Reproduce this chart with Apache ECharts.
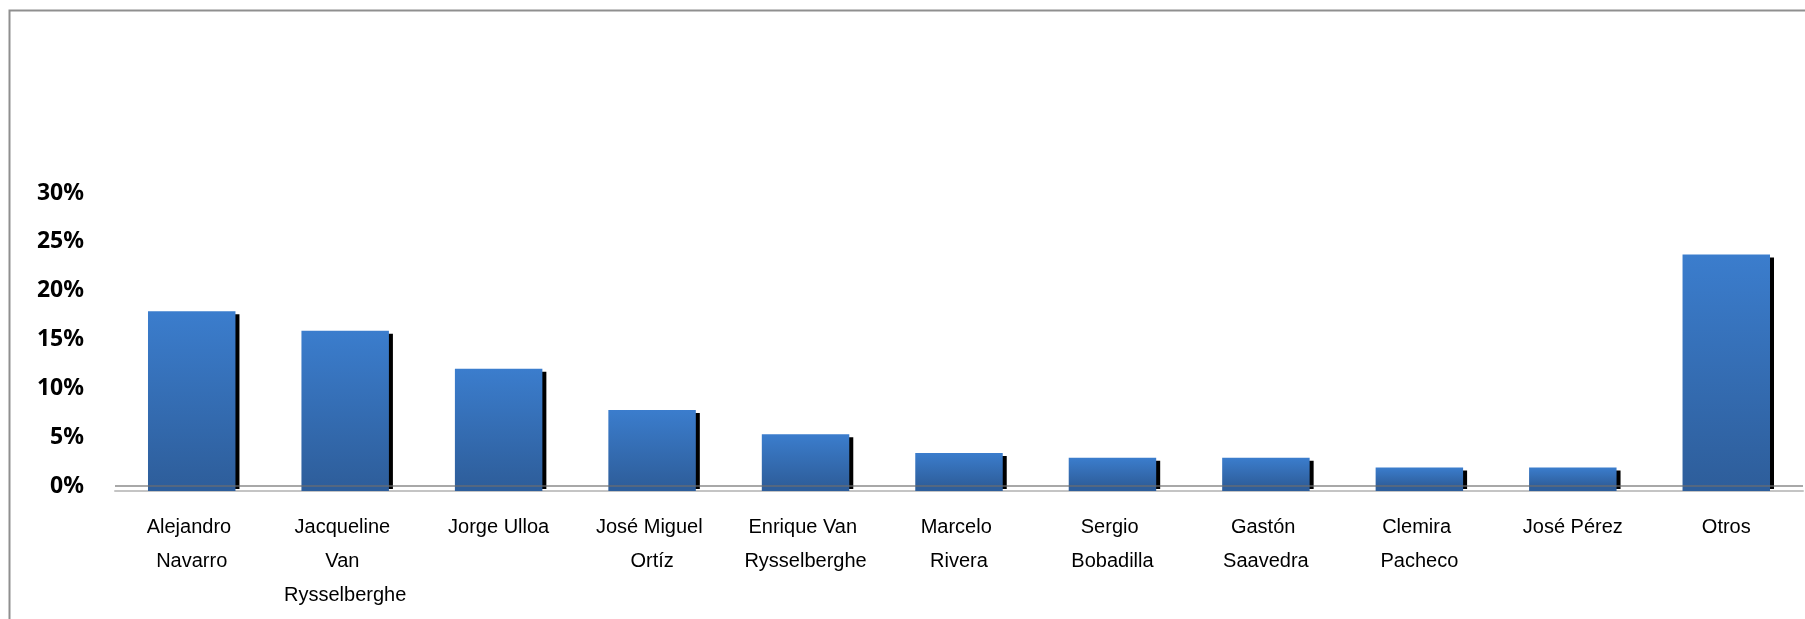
<!DOCTYPE html>
<html>
<head>
<meta charset="utf-8">
<title>Votación</title>
<script src="https://cdn.jsdelivr.net/npm/echarts@6/dist/echarts.min.js"></script>
<style>
	html, body { margin: 0; padding: 0; background: #fff; }
	#chart { width: 1805px; height: 619px; }
</style>
</head>
<body>
<div id="chart"></div>
<script>
	// datos
	const categorias = ['Alejandro Navarro', 'Jacqueline Van Rysselberghe', 'Jorge Ulloa', 'José Miguel Ortíz',
		'Enrique Van Rysselberghe', 'Marcelo Rivera', 'Sergio Bobadilla', 'Gastón Saavedra',
		'Clemira Pacheco', 'José Pérez', 'Otros'];
	const porcentajes = [17.9, 15.9, 12.0, 7.8, 5.3, 3.4, 2.9, 2.9, 1.9, 1.9, 23.7];
	const ticksY = [0, 5, 10, 15, 20, 25, 30];

	// la base de las barras baja un poco bajo el eje (efecto 3d)
	const PROF = 0.5;

	const chart = echarts.init(document.getElementById('chart'));
	chart.setOption({
		animation: false,
		graphic: [{
			type: 'rect',
			shape: { x: 9.5, y: 10.5, width: 1820, height: 700 },
			style: { fill: 'none', stroke: '#8f8f8f', lineWidth: 2 },
			silent: true
		}],
		grid: {
			left: 115,
			right: 2,
			top: 193,
			bottom: 128
		},
		xAxis: {
			type: 'category',
			data: categorias,
			axisTick: { show: false },
			axisLine: {
				show: true,
				onZero: false,
				lineStyle: { color: '#c4c4c4', width: 2 }
			},
			axisLabel: {
				interval: 0,
				margin: 19,
				width: 128,
				overflow: 'break',
				lineHeight: 34,
				color: '#000',
				fontFamily: 'Liberation Sans',
				fontSize: 20
			}
		},
		yAxis: {
			type: 'value',
			min: -PROF,
			max: 30,
			interval: 0.5,
			splitLine: { show: false },
			axisLine: { show: false },
			axisTick: { show: false },
			axisLabel: {
				margin: 31,
				color: '#000',
				fontFamily: 'Noto Sans',
				fontWeight: 'bold',
				fontSize: 23,
				formatter: function (v) {
					return ticksY.some(t => Math.abs(t - v) < 1e-6) ? Math.round(v) + '%' : '';
				}
			}
		},
		series: [
			{
				// parte de la barra bajo el eje, encima de la sombra
				type: 'bar',
				stack: 'votos',
				barCategoryGap: '43%',
				z: 3,
				data: categorias.map(() => -PROF),
				itemStyle: { color: '#2e5e9b' },
				silent: true
			},
			{
				type: 'bar',
				stack: 'votos',
				barCategoryGap: '43%',
				z: 2,
				data: porcentajes,
				itemStyle: {
					color: new echarts.graphic.LinearGradient(0, 0, 0, 1, [
						{ offset: 0, color: '#3b7dcd' },
						{ offset: 1, color: '#2e5e9b' }
					]),
					shadowColor: '#000',
					shadowBlur: 0,
					shadowOffsetX: 4,
					shadowOffsetY: 3
				}
			},
			{
				// linea del cero, sobre las barras
				type: 'line',
				data: [],
				z: 4,
				markLine: {
					silent: true,
					symbol: 'none',
					label: { show: false },
					lineStyle: { color: 'rgba(110,110,110,0.6)', width: 2, type: 'solid' },
					data: [{ yAxis: 0 }]
				}
			}
		]
	});
</script>
</body>
</html>
